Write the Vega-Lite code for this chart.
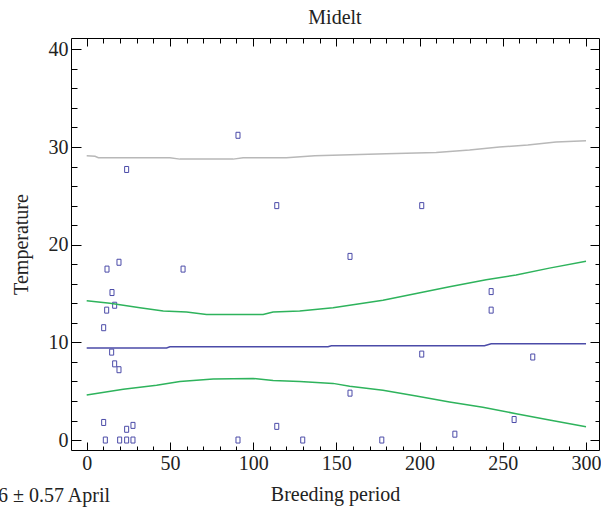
{
  "$schema": "https://vega.github.io/schema/vega-lite/v6.json",
  "autosize": "none",
  "width": 528,
  "height": 412,
  "padding": {"left": 71, "top": 38, "right": 2, "bottom": 60},
  "background": "white",
  "config": {
    "view": {"stroke": "#000", "strokeWidth": 1},
    "font": "Liberation Serif",
    "axis": {"labelFont": "Liberation Serif", "titleFont": "Liberation Serif", "labelFontSize": 20, "titleFontSize": 20, "labelColor": "#222", "titleColor": "#222", "titleFontWeight": "normal", "tickColor": "#000", "domain": false, "grid": false, "labelOverlap": false, "labelFlush": false}
  },
  "title": {"text": "Midelt", "font": "Liberation Serif", "fontSize": 20, "fontWeight": "normal", "color": "#222", "anchor": "middle", "offset": 10},
  "datasets": {
    "points": [
      {"day": 12.2, "temp": 17.5}, {"day": 19.4, "temp": 18.2}, {"day": 57.9, "temp": 17.5},
      {"day": 15.2, "temp": 15.1}, {"day": 16.8, "temp": 13.8}, {"day": 12.0, "temp": 13.3},
      {"day": 10.2, "temp": 11.5}, {"day": 15.0, "temp": 9.0}, {"day": 16.8, "temp": 7.8},
      {"day": 19.4, "temp": 7.2}, {"day": 10.2, "temp": 1.8}, {"day": 11.2, "temp": 0},
      {"day": 19.8, "temp": 0}, {"day": 24.0, "temp": 0}, {"day": 27.8, "temp": 0},
      {"day": 24.0, "temp": 1.1}, {"day": 27.8, "temp": 1.5}, {"day": 90.9, "temp": 0},
      {"day": 114.2, "temp": 1.4}, {"day": 24.0, "temp": 27.7}, {"day": 90.9, "temp": 31.2},
      {"day": 114.2, "temp": 24.0}, {"day": 158.2, "temp": 18.8}, {"day": 243.0, "temp": 15.2},
      {"day": 243.0, "temp": 13.3}, {"day": 201.3, "temp": 8.8}, {"day": 268.0, "temp": 8.5},
      {"day": 158.2, "temp": 4.8}, {"day": 256.8, "temp": 2.1}, {"day": 221.2, "temp": 0.6},
      {"day": 177.3, "temp": 0}, {"day": 129.8, "temp": 0}, {"day": 201.3, "temp": 24.0}
    ],
    "lines": [
      {"series": "max", "day": 0, "temp": 29.1}, {"series": "max", "day": 5, "temp": 29.05}, {"series": "max", "day": 7, "temp": 28.9},
      {"series": "max", "day": 50, "temp": 28.9}, {"series": "max", "day": 56, "temp": 28.76}, {"series": "max", "day": 88, "temp": 28.76},
      {"series": "max", "day": 94, "temp": 28.9}, {"series": "max", "day": 120, "temp": 28.9}, {"series": "max", "day": 137, "temp": 29.1},
      {"series": "max", "day": 180, "temp": 29.3}, {"series": "max", "day": 210, "temp": 29.45}, {"series": "max", "day": 230, "temp": 29.7},
      {"series": "max", "day": 248, "temp": 30.0}, {"series": "max", "day": 265, "temp": 30.2}, {"series": "max", "day": 282, "temp": 30.5},
      {"series": "max", "day": 300, "temp": 30.65},
      {"series": "upper", "day": 0, "temp": 14.26}, {"series": "upper", "day": 14, "temp": 14.0}, {"series": "upper", "day": 32, "temp": 13.55},
      {"series": "upper", "day": 46, "temp": 13.2}, {"series": "upper", "day": 60, "temp": 13.1}, {"series": "upper", "day": 72, "temp": 12.86},
      {"series": "upper", "day": 106, "temp": 12.86}, {"series": "upper", "day": 112, "temp": 13.1}, {"series": "upper", "day": 128, "temp": 13.2},
      {"series": "upper", "day": 148, "temp": 13.55}, {"series": "upper", "day": 158, "temp": 13.8}, {"series": "upper", "day": 178, "temp": 14.3},
      {"series": "upper", "day": 198, "temp": 15.0}, {"series": "upper", "day": 218, "temp": 15.7}, {"series": "upper", "day": 240, "temp": 16.4},
      {"series": "upper", "day": 258, "temp": 16.9}, {"series": "upper", "day": 278, "temp": 17.6}, {"series": "upper", "day": 300, "temp": 18.3},
      {"series": "mean", "day": 0, "temp": 9.42}, {"series": "mean", "day": 48, "temp": 9.42}, {"series": "mean", "day": 50, "temp": 9.55},
      {"series": "mean", "day": 145, "temp": 9.55}, {"series": "mean", "day": 147, "temp": 9.66}, {"series": "mean", "day": 239, "temp": 9.66},
      {"series": "mean", "day": 243, "temp": 9.86}, {"series": "mean", "day": 300, "temp": 9.86},
      {"series": "lower", "day": 0, "temp": 4.6}, {"series": "lower", "day": 22, "temp": 5.2}, {"series": "lower", "day": 42, "temp": 5.6},
      {"series": "lower", "day": 56, "temp": 6.0}, {"series": "lower", "day": 76, "temp": 6.24}, {"series": "lower", "day": 100, "temp": 6.3},
      {"series": "lower", "day": 112, "temp": 6.1}, {"series": "lower", "day": 128, "temp": 6.0}, {"series": "lower", "day": 148, "temp": 5.8},
      {"series": "lower", "day": 158, "temp": 5.5}, {"series": "lower", "day": 178, "temp": 5.1}, {"series": "lower", "day": 198, "temp": 4.5},
      {"series": "lower", "day": 218, "temp": 3.9}, {"series": "lower", "day": 238, "temp": 3.35}, {"series": "lower", "day": 258, "temp": 2.7},
      {"series": "lower", "day": 278, "temp": 2.05}, {"series": "lower", "day": 300, "temp": 1.36}
    ],
    "note": [{"day": 14.0, "temp": -6.35, "label": "16 ± 0.57 April"}]
  },
  "layer": [
    {
      "data": {"name": "points"},
      "mark": {"type": "point", "shape": "M-0.67,-1L0.67,-1L0.67,1L-0.67,1Z", "filled": false, "size": 36, "strokeWidth": 1, "color": "#4b4ba8", "opacity": 1},
      "encoding": {
        "x": {"field": "day", "type": "quantitative", "scale": {"domain": [-9.43, 307.8], "nice": false, "zero": false},
          "axis": {"orient": "bottom", "title": "Breeding period", "values": [0,10,20,30,40,50,60,70,80,90,100,110,120,130,140,150,160,170,180,190,200,210,220,230,240,250,260,270,280,290,300],
            "labelExpr": "datum.value % 50 === 0 ? datum.label : ''", "tickSize": {"condition": {"test": "datum.value % 50 === 0", "value": -8}, "value": -4}, "labelPadding": 11, "titlePadding": 7}},
        "y": {"field": "temp", "type": "quantitative", "scale": {"domain": [-1.02, 41.16], "nice": false, "zero": false},
          "axis": {"orient": "left", "title": "Temperature", "values": [0,2,4,6,8,10,12,14,16,18,20,22,24,26,28,30,32,34,36,38,40],
            "labelExpr": "datum.value % 10 === 0 ? datum.label : ''", "tickSize": {"condition": {"test": "datum.value % 10 === 0", "value": -10}, "value": -6}, "labelPadding": 13, "titlePadding": 17}}
      }
    },
    {
      "data": {"name": "lines"},
      "mark": {"type": "line", "strokeWidth": 1.5, "interpolate": "linear"},
      "encoding": {
        "x": {"field": "day", "type": "quantitative", "scale": {"domain": [-9.43, 307.8], "nice": false, "zero": false},
          "axis": {"orient": "top", "title": null, "labels": false, "values": [0,10,20,30,40,50,60,70,80,90,100,110,120,130,140,150,160,170,180,190,200,210,220,230,240,250,260,270,280,290,300],
            "tickSize": {"condition": {"test": "datum.value % 50 === 0", "value": -8}, "value": -5}}},
        "y": {"field": "temp", "type": "quantitative", "scale": {"domain": [-1.02, 41.16], "nice": false, "zero": false},
          "axis": {"orient": "right", "title": null, "labels": false, "values": [0,2,4,6,8,10,12,14,16,18,20,22,24,26,28,30,32,34,36,38,40],
            "tickSize": {"condition": {"test": "datum.value % 10 === 0", "value": -9}, "value": -4}}},
        "color": {"field": "series", "type": "nominal", "legend": null,
          "scale": {"domain": ["max", "upper", "mean", "lower"], "range": ["#b8b8b8", "#2eb35c", "#4b4ba8", "#2eb35c"]}},
        "detail": {"field": "series"}
      }
    },
    {
      "data": {"name": "note"},
      "mark": {"type": "text", "align": "right", "baseline": "alphabetic", "fontSize": 20, "font": "Liberation Serif", "color": "#222", "clip": false},
      "encoding": {
        "x": {"field": "day", "type": "quantitative", "axis": null},
        "y": {"field": "temp", "type": "quantitative", "axis": null},
        "text": {"field": "label"}
      }
    }
  ],
  "resolve": {"axis": {"x": "independent", "y": "independent"}}
}
